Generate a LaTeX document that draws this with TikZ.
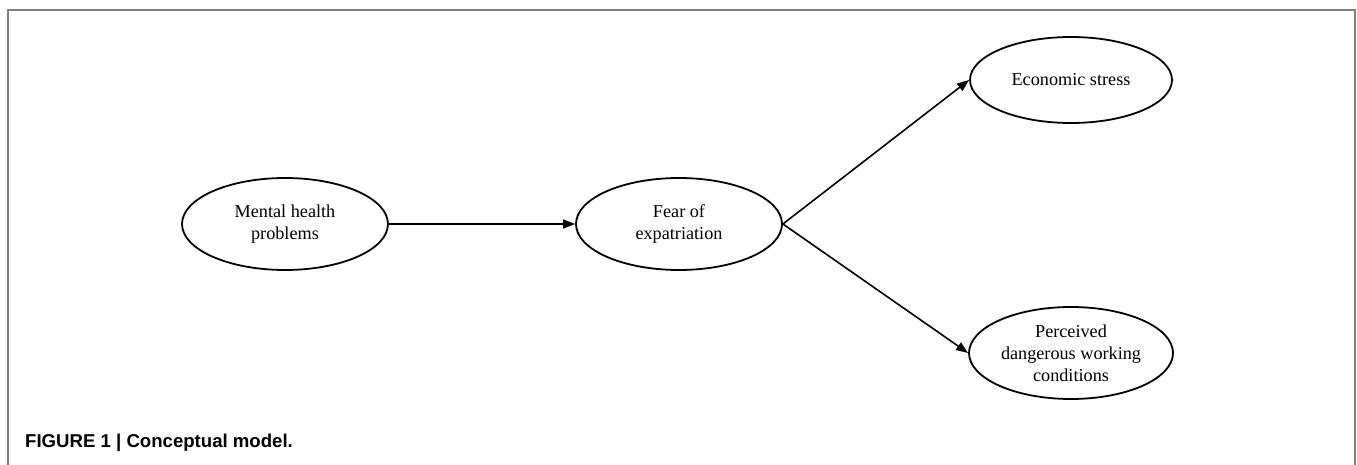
\documentclass[tikz,border=0pt]{standalone}
\usepackage{fontspec}
\setmainfont{Liberation Serif}
\newfontfamily\capfont{Liberation Sans}
\usetikzlibrary{shapes.geometric,arrows.meta}
\begin{document}
\begin{tikzpicture}[x=1pt,y=-1pt,
  oval/.style={draw,ellipse,line width=1.8pt,inner sep=0pt,align=center,
    font=\fontsize{18.2}{22}\selectfont},
  link/.style={line width=1.6pt,-{Triangle[length=12pt,width=9pt]}},
  frame/.style={draw=black!50,line width=2pt}]
\useasboundingbox (0,0) rectangle (1357,465);
\draw[frame] (8,465) -- (8,10) -- (1355,10) -- (1355,465);
\node[oval,minimum width=206pt,minimum height=92pt] (m) at (285,224) {Mental health\\problems};
\node[oval,minimum width=206pt,minimum height=92pt] (f) at (679,224) {Fear of\\expatriation};
\node[oval,minimum width=202pt,minimum height=86pt] (e) at (1071,80) {Economic stress};
\node[oval,minimum width=204pt,minimum height=92pt] (p) at (1071,353) {Perceived\\dangerous working\\conditions};
\draw[link] (m.east) -- (f.west);
\draw[link] (f.east) -- (e.west);
\draw[link] (f.east) -- (p.west);
\node[anchor=base west,inner sep=0pt,font=\capfont\bfseries\fontsize{18.6}{22}\selectfont] (cap) at (25,447) {FIGURE 1 | Conceptual model.};
\end{tikzpicture}
\end{document}
